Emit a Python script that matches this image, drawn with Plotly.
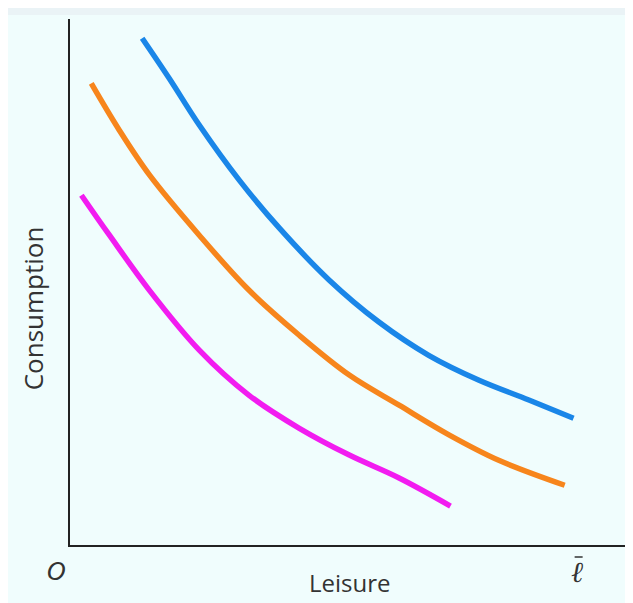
import plotly.graph_objects as go

# Data units: leisure (x) with l-bar = 9.76, consumption (y)
blue_x = [1.39, 1.91, 2.49, 3.26, 4.03, 4.99, 5.95, 6.91, 7.88, 8.84, 9.70]
blue_y = [9.75, 8.98, 8.08, 7.02, 6.10, 5.10, 4.29, 3.65, 3.17, 2.79, 2.44]

orange_x = [0.41, 0.95, 1.53, 2.49, 3.45, 4.41, 5.38, 6.34, 7.30, 8.26, 9.53]
orange_y = [8.88, 7.98, 7.12, 5.96, 4.90, 4.04, 3.27, 2.69, 2.12, 1.63, 1.15]

magenta_x = [0.22, 0.76, 1.53, 2.49, 3.45, 4.41, 5.38, 6.34, 7.33]
magenta_y = [6.73, 5.96, 4.90, 3.75, 2.88, 2.25, 1.73, 1.29, 0.75]

L_BAR = 9.76
X_MAX = 11.0
Y_MAX = 10.12

TXT = "#333333"

fig = go.Figure()
for xs, ys, col in [(blue_x, blue_y, "#1a86e8"),
                    (orange_x, orange_y, "#f7851c"),
                    (magenta_x, magenta_y, "#f21cf0")]:
    fig.add_trace(go.Scatter(x=xs, y=ys, mode="lines",
                             line=dict(color=col, width=5.5, shape="spline", smoothing=1.0),
                             showlegend=False, hoverinfo="skip"))

lbar_paper = L_BAR / X_MAX

fig.update_layout(
    width=633, height=603,
    margin=dict(l=62, r=0, t=11, b=66),
    paper_bgcolor="#f0fdfd", plot_bgcolor="#f0fdfd",
    font=dict(family="Open Sans", color=TXT),
    xaxis=dict(range=[0, X_MAX], showgrid=False, zeroline=False, showticklabels=False,
               ticks="", showline=True, linecolor="#222222", linewidth=2, mirror=False),
    yaxis=dict(range=[0, Y_MAX], showgrid=False, zeroline=False, showticklabels=False,
               ticks="", showline=True, linecolor="#222222", linewidth=2, mirror=False),
    shapes=[
        dict(type="rect", xref="paper", yref="paper", x0=-0.2, x1=1.1,
             y0=1 + 4/526, y1=1.1, fillcolor="#eaf3f6", line=dict(width=0), layer="below"),
        dict(type="line", xref="paper", yref="paper", xsizemode="pixel", ysizemode="pixel",
             xanchor=lbar_paper, yanchor=0, x0=-2, x1=6, y0=-12, y1=-12,
             line=dict(color=TXT, width=1.5)),
    ],
    annotations=[
        dict(x=0, y=0, xref="x", yref="y", text="<i>O</i>", showarrow=False,
             font=dict(size=24, family="DejaVu Sans", color=TXT), xanchor="center", yanchor="top",
             xshift=-14, yshift=-11),
        dict(x=L_BAR, y=0, xref="x", yref="y", text="<i>ℓ</i>", showarrow=False,
             font=dict(size=29, family="DejaVu Serif", color=TXT), xanchor="center", yanchor="top",
             yshift=-8),
        dict(x=0.5, y=-56/526, xref="paper", yref="paper", text="Leisure", showarrow=False,
             font=dict(size=24, family="Open Sans", color=TXT), xanchor="center", yanchor="bottom",
             xshift=-6),
        dict(x=-37/571, y=0.45, xref="paper", yref="paper", text="Consumption", showarrow=False,
             textangle=-90, font=dict(size=26, family="Open Sans", color=TXT),
             xanchor="center", yanchor="middle"),
    ],
)

fig.write_html("out.html")
